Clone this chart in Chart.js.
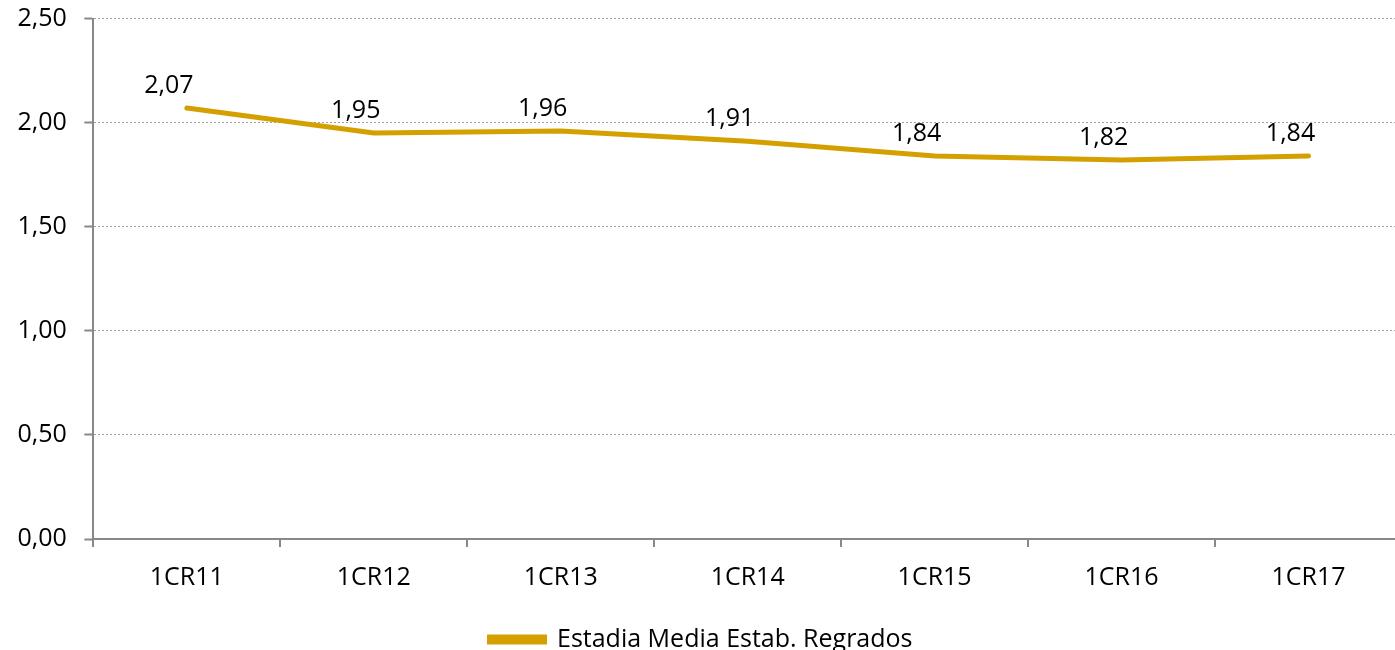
<!DOCTYPE html>
<html>
<head>
<meta charset="utf-8">
<script src="https://cdn.jsdelivr.net/npm/chart.js@4/dist/chart.umd.min.js"></script>
<style>
  html, body { margin: 0; padding: 0; background: #fff; overflow: hidden; }
  #wrap { width: 1402px; height: 676px; margin-top: -14px; }
</style>
</head>
<body>
<div id="wrap"><canvas id="estadiaChart"></canvas></div>
<script>
// Chart data
const categories = ['1CR11', '1CR12', '1CR13', '1CR14', '1CR15', '1CR16', '1CR17'];
const estadiaValues = [2.07, 1.95, 1.96, 1.91, 1.84, 1.82, 1.84];
const seriesName = 'Estadia Media Estab. Regrados';
const lineColor = '#d4a000';

function fmt(v) {
  return v.toFixed(2).replace('.', ',');
}

// Draws the value above each point, like the Excel labels
const valueLabels = {
  id: 'valueLabels',
  afterDatasetsDraw(chart) {
    const ctx = chart.ctx;
    const meta = chart.getDatasetMeta(0);
    ctx.save();
    ctx.font = '25px "Open Sans"';
    ctx.fillStyle = '#000';
    ctx.textAlign = 'center';
    ctx.textBaseline = 'middle';
    meta.data.forEach(function(pt, i) {
      ctx.fillText(fmt(estadiaValues[i]), pt.x - 18, pt.y - 22);
    });
    ctx.restore();
  }
};

window.onload = function() {
  var ctx = document.getElementById('estadiaChart').getContext('2d');
  new Chart(ctx, {
    type: 'line',
    data: {
      labels: categories,
      datasets: [{
        label: seriesName,
        data: estadiaValues,
        borderColor: lineColor,
        backgroundColor: lineColor,
        borderWidth: 5,
        tension: 0,
        pointRadius: 0,
        borderCapStyle: 'round'
      }]
    },
    options: {
      responsive: true,
      maintainAspectRatio: false,
      animation: false,
      layout: { padding: 0 },
      scales: {
        x: {
          offset: true,
          grid: {
            offset: true,
            drawOnChartArea: false,
            drawTicks: true,
            tickLength: 8,
            color: '#888',
            lineWidth: 2
          },
          border: { color: '#888', width: 2 },
          ticks: {
            color: '#000',
            font: { family: 'Open Sans', size: 25 },
            padding: 16
          }
        },
        y: {
          min: 0,
          max: 2.5,
          grid: {
            color: '#a0a0a0',
            lineWidth: 1,
            tickLength: 9,
            tickColor: '#888',
            tickWidth: 2,
            tickBorderDash: []
          },
          border: { color: '#888', width: 2, dash: [2, 2] },
          ticks: {
            stepSize: 0.5,
            color: '#000',
            font: { family: 'Open Sans', size: 25 },
            padding: 17.5,
            callback: function(v) { return fmt(v); }
          }
        }
      },
      plugins: {
        legend: {
          position: 'bottom',
          labels: {
            color: '#000',
            font: { family: 'Open Sans', size: 25 },
            boxWidth: 55,
            boxHeight: 5,
            padding: 18
          }
        },
        tooltip: { enabled: false }
      }
    },
    plugins: [valueLabels]
  });
};
</script>
</body>
</html>
